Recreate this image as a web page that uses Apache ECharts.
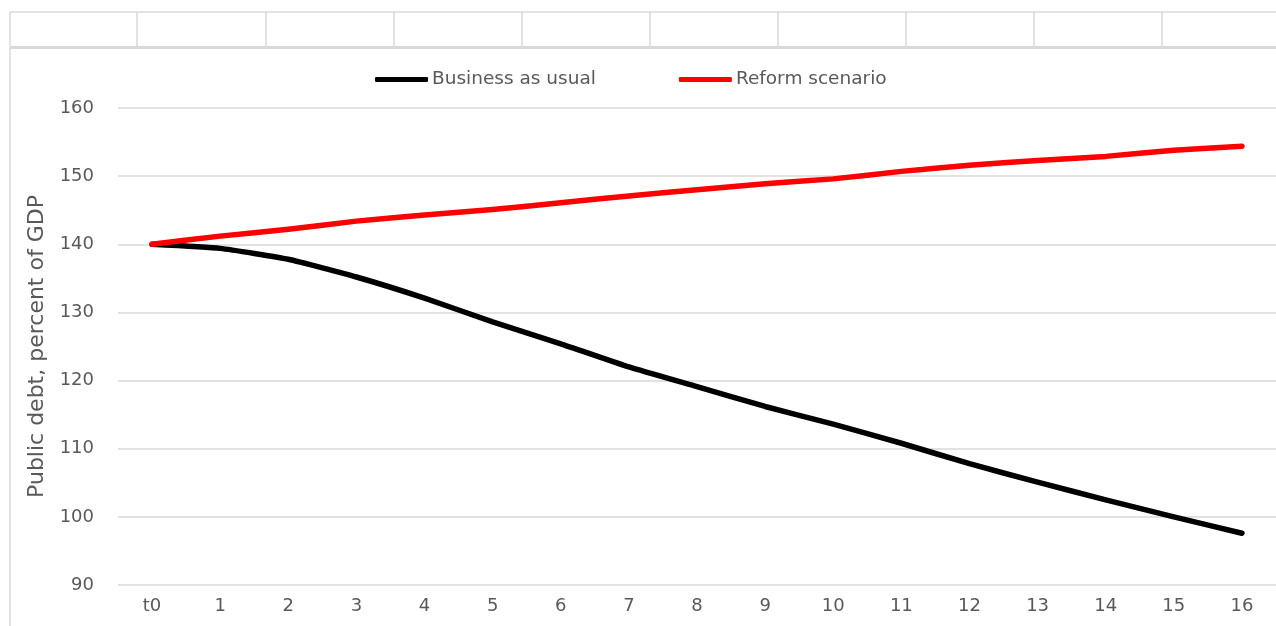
<!DOCTYPE html>
<html><head><meta charset="utf-8">
<script src="https://cdn.jsdelivr.net/npm/echarts@6/dist/echarts.min.js"></script>
<style>html,body{margin:0;padding:0;background:#fff}#c{width:1276px;height:626px}</style>
</head><body><div id="c"></div>
<script>
const categories = ['t0','1','2','3','4','5','6','7','8','9','10','11','12','13','14','15','16'];
const businessAsUsual = [140,139.4,137.8,135.2,132.1,128.6,125.4,122.0,119.1,116.2,113.6,110.8,107.8,105.1,102.5,100.0,97.6];
const reformScenario = [140,141.2,142.2,143.4,144.3,145.1,146.1,147.1,148.0,148.9,149.6,150.7,151.6,152.3,152.9,153.8,154.4];
const seriesNames = ['Business as usual','Reform scenario'];
const yTitle = 'Public debt, percent of GDP';

const chart = echarts.init(document.getElementById('c'));
const font = 'DejaVu Sans, sans-serif';
const cellX = [10,137,266,394,522,650,778,906,1034,1162];
const g = [];
g.push({type:'line',shape:{x1:10,y1:12,x2:1276,y2:12},style:{stroke:'#d9d9d9',lineWidth:1.5}});
g.push({type:'line',shape:{x1:10,y1:47.5,x2:1276,y2:47.5},style:{stroke:'#d9d9d9',lineWidth:3}});
cellX.forEach(x=>g.push({type:'line',shape:{x1:x,y1:12,x2:x,y2:46},style:{stroke:'#d9d9d9',lineWidth:1.5}}));
g.push({type:'line',shape:{x1:10,y1:47,x2:10,y2:626},style:{stroke:'#d9d9d9',lineWidth:1.5}});

chart.setOption({
  animation:false,
  textStyle:{fontFamily:font},
  graphic:g,
  legend:{
    top:65, left:370,
    icon:'roundRect',
    itemWidth:53, itemHeight:5, itemGap:83,
    textStyle:{fontSize:18.5,color:'#595959',fontFamily:font,padding:[0,0,0,-1]},
    data:seriesNames
  },
  grid:{left:118, top:108, right:0, height:477, outerBoundsMode:'none', containLabel:false},
  xAxis:{
    type:'category', data:categories, boundaryGap:true,
    axisLine:{show:false}, axisTick:{show:false},
    axisLabel:{fontSize:18,color:'#595959',margin:12,fontFamily:font}
  },
  yAxis:{
    type:'value', min:90, max:160, interval:10,
    name:yTitle, nameLocation:'middle', nameGap:69, nameRotate:90,
    nameTextStyle:{fontSize:22,color:'#595959',fontFamily:font},
    axisLine:{show:false}, axisTick:{show:false},
    axisLabel:{fontSize:18,color:'#595959',margin:24,fontFamily:font},
    splitLine:{lineStyle:{color:'#d9d9d9',width:1.5}}
  },
  series:[
    {name:seriesNames[0],type:'line',data:businessAsUsual,symbol:'none',smooth:0.15,
     lineStyle:{color:'#000',width:5.5,cap:'round',join:'round'},itemStyle:{color:'#000'}},
    {name:seriesNames[1],type:'line',data:reformScenario,symbol:'none',smooth:0.15,
     lineStyle:{color:'#ff0000',width:5.5,cap:'round',join:'round'},itemStyle:{color:'#ff0000'}}
  ]
});
</script></body></html>
